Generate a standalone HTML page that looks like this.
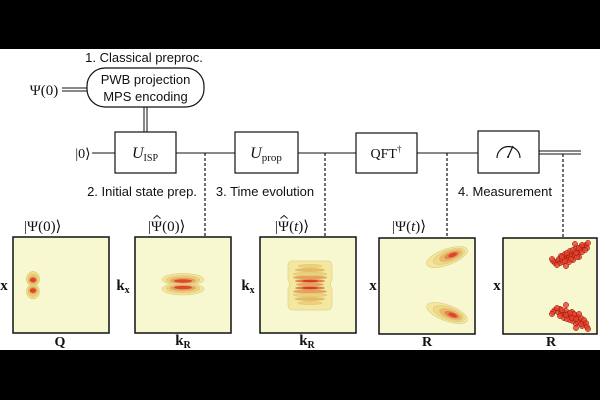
<!DOCTYPE html>
<html><head><meta charset="utf-8"><style>
html,body{margin:0;padding:0;background:#fff}
svg{display:block}
.s{font-family:"Liberation Sans",sans-serif;font-size:13px;fill:#111}
.m{font-family:"Liberation Serif","DejaVu Serif",serif;fill:#111}
.b{font-family:"Liberation Serif","DejaVu Serif",serif;font-weight:bold;fill:#111}
</style></head><body>
<svg width="600" height="400" viewBox="0 0 600 400" xmlns="http://www.w3.org/2000/svg">
<rect x="0" y="0" width="600" height="400" fill="#fff"/>
<rect x="0" y="0" width="600" height="49" fill="#000"/>
<rect x="0" y="350" width="600" height="50" fill="#000"/>

<!-- classical preproc -->
<text class="s" x="144" y="62" text-anchor="middle">1. Classical preproc.</text>
<rect x="87" y="68" width="117" height="39" rx="18" ry="18" fill="#fff" stroke="#111" stroke-width="1.2"/>
<text class="s" x="145.5" y="84" text-anchor="middle">PWB projection</text>
<text class="s" x="145.5" y="101" text-anchor="middle">MPS encoding</text>
<text class="m" x="44" y="95" text-anchor="middle" font-size="15">Ψ(0)</text>
<line x1="62" y1="88" x2="87" y2="88" stroke="#111" stroke-width="1"/>
<line x1="62" y1="91" x2="87" y2="91" stroke="#111" stroke-width="1"/>
<line x1="144" y1="107" x2="144" y2="132" stroke="#111" stroke-width="1"/>
<line x1="147" y1="107" x2="147" y2="132" stroke="#111" stroke-width="1"/>

<!-- wires -->
<text class="m" x="83" y="158" text-anchor="middle" font-size="14">|0⟩</text>
<line x1="92" y1="153" x2="115" y2="153" stroke="#111" stroke-width="1"/>
<line x1="176" y1="153" x2="235" y2="153" stroke="#111" stroke-width="1"/>
<line x1="298" y1="153" x2="356" y2="153" stroke="#111" stroke-width="1"/>
<line x1="417" y1="153" x2="478" y2="153" stroke="#111" stroke-width="1"/>
<line x1="539" y1="151" x2="581" y2="151" stroke="#111" stroke-width="1"/>
<line x1="539" y1="154" x2="581" y2="154" stroke="#111" stroke-width="1"/>

<!-- boxes -->
<rect x="115" y="132" width="61" height="41" fill="#fff" stroke="#111" stroke-width="1.2"/>
<text class="m" x="145" y="158" text-anchor="middle"><tspan font-size="16" font-style="italic">U</tspan><tspan font-size="10" dy="3">ISP</tspan></text>
<rect x="235" y="132" width="63" height="41" fill="#fff" stroke="#111" stroke-width="1.2"/>
<text class="m" x="266" y="158" text-anchor="middle"><tspan font-size="16" font-style="italic">U</tspan><tspan font-size="11" dy="3">prop</tspan></text>
<rect x="356" y="133" width="61" height="40" fill="#fff" stroke="#111" stroke-width="1.2"/>
<text class="m" x="386" y="158" text-anchor="middle"><tspan font-size="14">QFT</tspan><tspan font-size="9" dy="-6">†</tspan></text>
<rect x="478" y="131" width="61" height="42" fill="#fff" stroke="#111" stroke-width="1.2"/>
<path d="M497 158 A11.5 11.5 0 0 1 520 158" fill="none" stroke="#111" stroke-width="1.2"/>
<line x1="508" y1="157" x2="513" y2="146" stroke="#111" stroke-width="1.2"/>
<circle cx="508" cy="157" r="1" fill="#111"/>

<!-- dashed -->
<g stroke="#111" stroke-width="1.2" stroke-dasharray="3,2">
<line x1="205" y1="153" x2="205" y2="237"/>
<line x1="325" y1="153" x2="325" y2="237"/>
<line x1="447" y1="153" x2="447" y2="238"/>
<line x1="563" y1="154" x2="563" y2="238"/>
</g>

<text class="s" x="142" y="196" text-anchor="middle">2. Initial state prep.</text>
<text class="s" x="265" y="196" text-anchor="middle">3. Time evolution</text>
<text class="s" x="505" y="196" text-anchor="middle">4. Measurement</text>

<!-- kets -->
<text class="m" x="24" y="231" font-size="15">|Ψ(0)⟩</text>
<text class="m" x="148" y="231" font-size="15">|Ψ(0)⟩</text>
<path d="M153.5 218.5 L157 215.5 L160.5 218.5" fill="none" stroke="#111" stroke-width="0.9"/>
<text class="m" x="275" y="231" font-size="15">|Ψ(<tspan font-style="italic">t</tspan>)⟩</text>
<path d="M280.5 218.5 L284 215.5 L287.5 218.5" fill="none" stroke="#111" stroke-width="0.9"/>
<text class="m" x="392" y="231" font-size="15">|Ψ(<tspan font-style="italic">t</tspan>)⟩</text>

<!-- panels bg -->
<g fill="#f7f7d0">
<rect x="13" y="237" width="96" height="96"/>
<rect x="135" y="237" width="96" height="96"/>
<rect x="260" y="237" width="96" height="96"/>
<rect x="379" y="238" width="96" height="96"/>
<rect x="503" y="238" width="94" height="96"/>
</g>

<!-- panel 1 -->
<g stroke="#cfb860" stroke-width="0.5">
<ellipse cx="33" cy="279" rx="6.5" ry="7.5" fill="#f1e08c"/>
<ellipse cx="33" cy="279.5" rx="5" ry="5.5" fill="#edcb72"/>
<ellipse cx="33" cy="280" rx="3.8" ry="3.4" fill="#e89058"/>
<ellipse cx="33" cy="280" rx="3" ry="2.2" fill="#e0442e" stroke="none"/>
<ellipse cx="33" cy="291.5" rx="6.5" ry="7.5" fill="#f1e08c"/>
<ellipse cx="33" cy="291" rx="5" ry="5.5" fill="#edcb72"/>
<ellipse cx="33" cy="290.5" rx="3.8" ry="3.4" fill="#e89058"/>
<ellipse cx="33" cy="290.5" rx="3" ry="2.2" fill="#e0442e" stroke="none"/>
</g>

<!-- panel 2 -->
<g stroke="#d8c478" stroke-width="0.5">
<ellipse cx="183" cy="279.5" rx="21" ry="6" fill="#f3e79c"/>
<ellipse cx="183" cy="289" rx="21" ry="6" fill="#f3e79c"/>
<ellipse cx="183" cy="280" rx="17" ry="4.5" fill="#eed07a"/>
<ellipse cx="183" cy="288.5" rx="17" ry="4.5" fill="#eed07a"/>
<ellipse cx="183" cy="280.5" rx="13" ry="3" fill="#e9a060"/>
<ellipse cx="183" cy="288" rx="13" ry="3" fill="#e9a060"/>
<ellipse cx="183" cy="281" rx="9" ry="1.8" fill="#e0482e" stroke="none"/>
<ellipse cx="183" cy="287.5" rx="9" ry="1.8" fill="#e0482e" stroke="none"/>
</g>

<!-- panel 3 -->
<g stroke="#d8c478" stroke-width="0.5">
<path d="M292 261 H328 Q332 261 332 266 V280 Q329 284 332 289 V305 Q332 310 327 310 H293 Q288 310 288 305 V289 Q291 284 288 280 V266 Q288 261 292 261 Z" fill="#f4e8a0"/>
<ellipse cx="310" cy="266" rx="12" ry="1.6" fill="#eed07a"/>
<ellipse cx="310" cy="270" rx="15" ry="1.7" fill="#eab860"/>
<ellipse cx="310" cy="274" rx="17" ry="1.8" fill="#eed07a"/>
<ellipse cx="310" cy="277.5" rx="17" ry="1.8" fill="#e8a058"/>
<ellipse cx="310" cy="281" rx="15" ry="1.8" fill="#e47a48"/>
<ellipse cx="310" cy="284.5" rx="14" ry="1.6" fill="#e8a058"/>
<ellipse cx="310" cy="288" rx="15" ry="1.8" fill="#e47a48"/>
<ellipse cx="310" cy="291.5" rx="17" ry="1.8" fill="#e8a058"/>
<ellipse cx="310" cy="295" rx="17" ry="1.8" fill="#eed07a"/>
<ellipse cx="310" cy="299" rx="15" ry="1.7" fill="#eab860"/>
<ellipse cx="310" cy="303" rx="12" ry="1.6" fill="#eed07a"/>
<ellipse cx="310" cy="281" rx="8" ry="1.2" fill="#dd3a28" stroke="none"/>
<ellipse cx="310" cy="288" rx="8" ry="1.2" fill="#dd3a28" stroke="none"/>
</g>

<!-- panel 4 -->
<g stroke="#d8c478" stroke-width="0.5">
<g transform="rotate(-20 447 257)">
<ellipse cx="447" cy="257" rx="21.5" ry="8" fill="#f3e79c"/>
<ellipse cx="449" cy="257" rx="16.5" ry="6.2" fill="#efd888"/>
<ellipse cx="451" cy="257" rx="12" ry="4.6" fill="#eab868"/>
<ellipse cx="452" cy="257" rx="8" ry="3.2" fill="#e8844e"/>
<ellipse cx="453" cy="257" rx="4.5" ry="2" fill="#e0442e" stroke="none"/>
</g>
<g transform="rotate(20 447 313)">
<ellipse cx="447" cy="313" rx="21.5" ry="8" fill="#f3e79c"/>
<ellipse cx="449" cy="313" rx="16.5" ry="6.2" fill="#efd888"/>
<ellipse cx="451" cy="313" rx="12" ry="4.6" fill="#eab868"/>
<ellipse cx="452" cy="313" rx="8" ry="3.2" fill="#e8844e"/>
<ellipse cx="453" cy="313" rx="4.5" ry="2" fill="#e0442e" stroke="none"/>
</g>
</g>

<!-- panel 5 -->
<g fill="#e8402a" fill-opacity="0.8" stroke="#8a1a0c" stroke-width="0.5">
<circle cx="555" cy="263" r="2.7"/><circle cx="558" cy="261" r="2.7"/><circle cx="560" cy="263" r="2.7"/><circle cx="559" cy="259" r="2.7"/>
<circle cx="562" cy="260" r="2.7"/><circle cx="564" cy="257" r="2.7"/><circle cx="563" cy="262" r="2.7"/><circle cx="566" cy="258" r="2.7"/>
<circle cx="567" cy="255" r="2.7"/><circle cx="569" cy="257" r="2.7"/><circle cx="568" cy="260" r="2.7"/><circle cx="571" cy="254" r="2.7"/>
<circle cx="572" cy="257" r="2.7"/><circle cx="574" cy="252" r="2.7"/><circle cx="575" cy="255" r="2.7"/><circle cx="577" cy="251" r="2.7"/>
<circle cx="578" cy="254" r="2.7"/><circle cx="580" cy="250" r="2.7"/><circle cx="581" cy="247" r="2.7"/><circle cx="583" cy="249" r="2.7"/>
<circle cx="584" cy="246" r="2.7"/><circle cx="586" cy="245" r="2.7"/><circle cx="579" cy="257" r="2.7"/><circle cx="573" cy="260" r="2.7"/>
<circle cx="570" cy="251" r="2.7"/><circle cx="576" cy="248" r="2.7"/><circle cx="582" cy="252" r="2.7"/><circle cx="565" cy="254" r="2.7"/>
<circle cx="561" cy="256" r="2.7"/><circle cx="587" cy="248" r="2.7"/><circle cx="553" cy="261" r="2.7"/><circle cx="557" cy="265" r="2.7"/>
<circle cx="566" cy="266" r="2.7"/><circle cx="552" cy="259" r="2.7"/><circle cx="588" cy="243" r="2.7"/><circle cx="575" cy="244" r="2.7"/>
<circle cx="569" cy="262" r="2.7"/><circle cx="577" cy="257" r="2.7"/><circle cx="585" cy="250" r="2.7"/>
<circle cx="565" cy="261" r="2.7"/><circle cx="571" cy="259" r="2.7"/><circle cx="573" cy="250" r="2.7"/><circle cx="579" cy="248" r="2.7"/>
<circle cx="562" cy="257" r="2.7"/><circle cx="576" cy="253" r="2.7"/><circle cx="567" cy="253" r="2.7"/><circle cx="582" cy="245" r="2.7"/>

<circle cx="555" cy="310" r="2.7"/><circle cx="558" cy="312" r="2.7"/><circle cx="560" cy="309" r="2.7"/><circle cx="561" cy="314" r="2.7"/>
<circle cx="563" cy="312" r="2.7"/><circle cx="565" cy="315" r="2.7"/><circle cx="566" cy="311" r="2.7"/><circle cx="568" cy="314" r="2.7"/>
<circle cx="569" cy="317" r="2.7"/><circle cx="571" cy="315" r="2.7"/><circle cx="572" cy="312" r="2.7"/><circle cx="574" cy="318" r="2.7"/>
<circle cx="575" cy="315" r="2.7"/><circle cx="577" cy="320" r="2.7"/><circle cx="578" cy="317" r="2.7"/><circle cx="580" cy="321" r="2.7"/>
<circle cx="581" cy="318" r="2.7"/><circle cx="583" cy="322" r="2.7"/><circle cx="584" cy="324" r="2.7"/><circle cx="586" cy="323" r="2.7"/>
<circle cx="579" cy="314" r="2.7"/><circle cx="573" cy="321" r="2.7"/><circle cx="570" cy="320" r="2.7"/><circle cx="576" cy="324" r="2.7"/>
<circle cx="582" cy="326" r="2.7"/><circle cx="564" cy="318" r="2.7"/><circle cx="560" cy="316" r="2.7"/><circle cx="587" cy="327" r="2.7"/>
<circle cx="553" cy="312" r="2.7"/><circle cx="557" cy="308" r="2.7"/><circle cx="566" cy="305" r="2.7"/><circle cx="552" cy="314" r="2.7"/>
<circle cx="588" cy="329" r="2.7"/><circle cx="576" cy="328" r="2.7"/><circle cx="567" cy="319" r="2.7"/><circle cx="574" cy="314" r="2.7"/>
<circle cx="562" cy="310" r="2.7"/><circle cx="570" cy="313" r="2.7"/><circle cx="578" cy="322" r="2.7"/><circle cx="572" cy="318" r="2.7"/>
<circle cx="566" cy="315" r="2.7"/><circle cx="581" cy="324" r="2.7"/><circle cx="576" cy="319" r="2.7"/><circle cx="584" cy="320" r="2.7"/>
</g>

<!-- panel borders -->
<g fill="none" stroke="#111" stroke-width="1.5">
<rect x="13" y="237" width="96" height="96"/>
<rect x="135" y="237" width="96" height="96"/>
<rect x="260" y="237" width="96" height="96"/>
<rect x="379" y="238" width="96" height="96"/>
<rect x="503" y="238" width="94" height="96"/>
</g>

<!-- axis labels -->
<text class="b" x="4" y="290" text-anchor="middle" font-size="15">x</text>
<text class="b" x="123" y="290" text-anchor="middle" font-size="15">k<tspan font-size="10" dy="3">x</tspan></text>
<text class="b" x="248" y="290" text-anchor="middle" font-size="15">k<tspan font-size="10" dy="3">x</tspan></text>
<text class="b" x="373" y="290" text-anchor="middle" font-size="15">x</text>
<text class="b" x="497" y="290" text-anchor="middle" font-size="15">x</text>

<text class="b" x="60" y="346" text-anchor="middle" font-size="14">Q</text>
<text class="b" x="183" y="345" text-anchor="middle" font-size="15">k<tspan font-size="10" dy="3">R</tspan></text>
<text class="b" x="307" y="345" text-anchor="middle" font-size="15">k<tspan font-size="10" dy="3">R</tspan></text>
<text class="b" x="427" y="346" text-anchor="middle" font-size="14">R</text>
<text class="b" x="551" y="346" text-anchor="middle" font-size="14">R</text>
</svg>
</body></html>
